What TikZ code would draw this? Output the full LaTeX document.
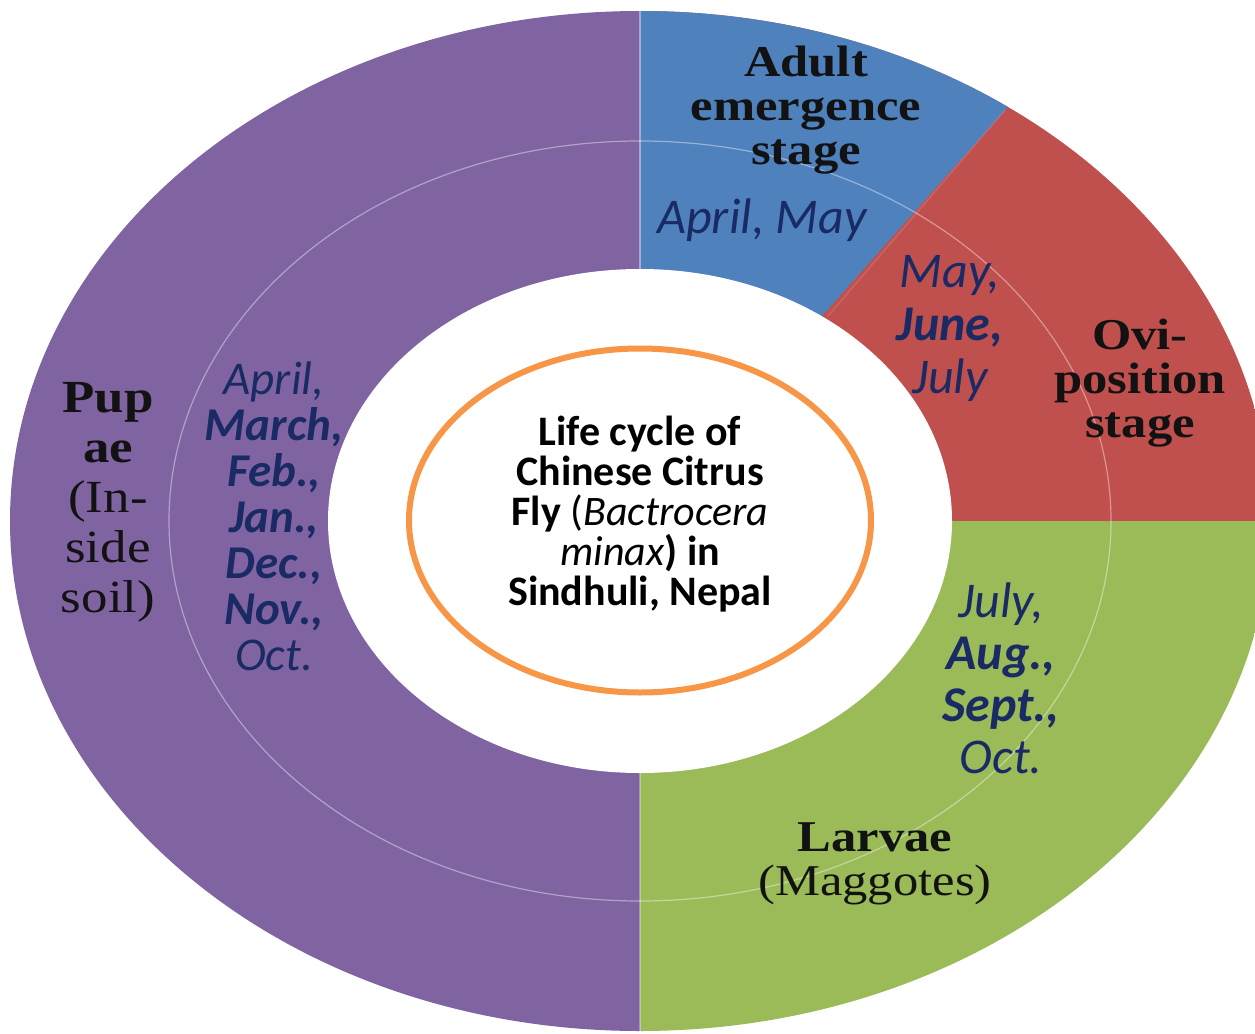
\documentclass[tikz,border=0pt]{standalone}
\usepackage{fontspec}
\setmainfont{Liberation Serif}
\newfontfamily\stagefont[FakeStretch=1.15]{Liberation Serif}
\newfontfamily\calfont{Carlito}
\definecolor{purpleW}{HTML}{8064A2}
\definecolor{blueW}{HTML}{4F81BD}
\definecolor{redW}{HTML}{C0504D}
\definecolor{greenW}{HTML}{9BBB59}
\definecolor{orangeC}{HTML}{F79646}
\definecolor{monthblue}{RGB}{26,42,100}
\definecolor{inkblack}{RGB}{18,18,18}
\begin{document}
\begin{tikzpicture}[x=1pt,y=-1pt,
  stagelbl/.style={font=\stagefont\bfseries\fontsize{44}{44}\selectfont, align=center, text=inkblack, inner sep=0pt},
  pupalbl/.style={font=\stagefont\fontsize{46}{50}\selectfont, align=center, text=inkblack, inner sep=0pt},
  monthlbl/.style={font=\calfont\itshape\fontsize{50}{53}\selectfont, align=center, text=monthblue, inner sep=0pt},
  centerlbl/.style={font=\calfont\bfseries\fontsize{42}{40}\selectfont, align=center, text=black, inner sep=0pt},
  divider/.style={white, opacity=0.4, line width=1.5pt},
  ringline/.style={white, opacity=0.4, line width=1.2pt}]
\useasboundingbox (0,0) rectangle (1255,1033);
\clip (0,0) rectangle (1255,1033);
\coordinate (c) at (640,521);
% wedges
\begin{scope}
  \clip (c) ellipse [x radius=630pt, y radius=510pt];
  \fill[purpleW] (640,-100) rectangle (-100,1200);
  \fill[greenW] (640,521) rectangle (1400,1200);
  \fill[redW] (640,521) rectangle (1400,-100);
  \fill[blueW] (c) -- (640,-600) -- (1735,-712) -- cycle;
\end{scope}
% middle thin ring
\draw[ringline] (c) ellipse [x radius=471pt, y radius=380pt];
% dividers
\coordinate (dUin) at (640,269);  \coordinate (dUout) at (640,11);
\coordinate (dDin) at (640,773);  \coordinate (dDout) at (640,1031);
\coordinate (dBin) at (828,316);  \coordinate (dBout) at (1005,110);
\draw[divider] (dUin) -- (dUout);
\draw[divider, opacity=0.3] (dDin) -- (dDout);
\draw[divider, opacity=0.12] (dBin) -- (dBout);
% inner hole
\fill[white] (c) ellipse [x radius=312pt, y radius=252pt];
% orange circle
\draw[orangeC, line width=6pt] (640,520.5) ellipse [x radius=231pt, y radius=172pt];
% stage labels
\node[stagelbl] (adult) at (806,110) {Adult\\emergence\\stage};
\node[stagelbl] (ovi) at (1140,383) {Ovi-\\position\\stage};
\node[pupalbl] (pupae) at (108,502) {\textbf{Pup}\\\textbf{ae}\\(In-\\side\\soil)};
\node[pupalbl, font=\stagefont\fontsize{44}{44}\selectfont] (larvae) at (875,864) {\textbf{Larvae}\\(Maggotes)};
% month labels
\node[monthlbl] (mblue) at (762,220) {April, May};
\node[monthlbl] (mred) at (950,328) {May,\\\textbf{June,}\\July};
\node[monthlbl, font=\calfont\itshape\fontsize{47}{46}\selectfont] (mpurple) at (274,516) {April,\\\textbf{March,}\\\textbf{Feb.,}\\\textbf{Jan.,}\\\textbf{Dec.,}\\\textbf{Nov.,}\\Oct.};
\node[monthlbl, font=\calfont\itshape\fontsize{50}{52}\selectfont] (mgreen) at (1001,678) {July,\\\textbf{Aug.,}\\\textbf{Sept.,}\\Oct.};
% centre text
\node[centerlbl] (title) at (640,514) {Life cycle of\\Chinese Citrus\\Fly {\mdseries(\itshape Bactrocera}\\{\mdseries\itshape minax})~in\\Sindhuli, Nepal};
\end{tikzpicture}
\end{document}
